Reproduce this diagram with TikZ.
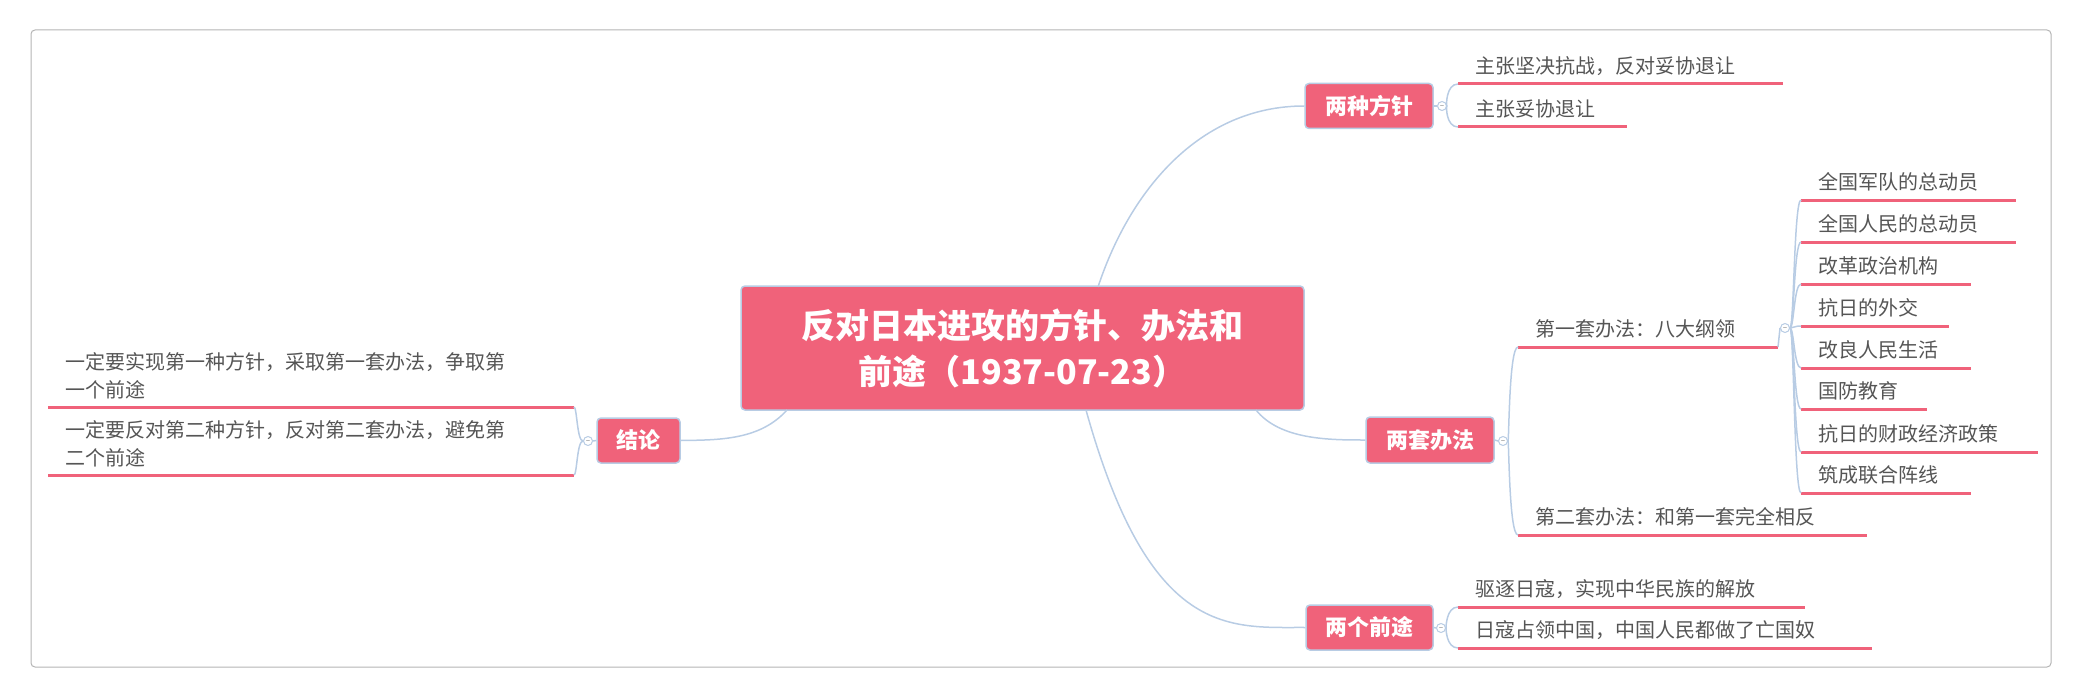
\documentclass[tikz,border=0pt]{standalone}
\usepackage{fontspec}
\setmainfont{Noto Sans CJK SC}
\definecolor{topicpink}{HTML}{F0627A}
\definecolor{linkblue}{HTML}{B8CCE4}
\definecolor{leafgray}{HTML}{555555}
\definecolor{framegray}{HTML}{B4B4B4}
\tikzset{
  topic/.style={draw=linkblue, line width=1.5pt, fill=topicpink, rounded corners=4pt,
    text=white, font=\fontsize{22}{26}\selectfont\bfseries, inner sep=0pt},
  link/.style={linkblue, line width=1.5pt},
  underline/.style={topicpink, line width=3pt},
  leaftext/.style={anchor=west, text=leafgray, font=\fontsize{20}{28}\selectfont, inner sep=0pt, align=left},
  fold/.style={circle, draw=linkblue, fill=white, line width=1pt, minimum size=9pt, inner sep=0pt}
}
% leaf: name, x start, x end, y of the line, text
\newcommand{\leaf}[5]{%
  \draw[underline] (#2,#4) -- (#3,#4);
  \coordinate (#1) at (#2,#4);
  \node[leaftext] (#1t) at (#2+17,#4-18) {#5};
}
% bracket from a fold mark to a leaf
\newcommand{\bracket}[3]{%
  \draw[link] (#1.east) .. controls (#2,0|-#1.east) and (#2,0|-#3) .. (#3);
}
\begin{document}
\begin{tikzpicture}[x=1pt,y=-1pt]
\useasboundingbox (0,0) rectangle (2085,698);
\draw[framegray, line width=1pt, rounded corners=4pt] (31,30) rectangle (2051,667);

% main topic
\node[topic, minimum width=563pt, minimum height=124pt, align=center,
  font=\fontsize{34}{46}\selectfont\bfseries] (main) at (1022.5,348)
  {反对日本进攻的方针、办法和\\前途（1937-07-23）};

% branches
\node[topic, minimum width=128pt, minimum height=45pt] (fangzhen) at (1369,106) {两种方针};
\node[topic, minimum width=128pt, minimum height=46pt] (banfa) at (1430,440) {两套办法};
\node[topic, minimum width=127pt, minimum height=45pt] (qiantu) at (1369.5,627.5) {两个前途};
\node[topic, minimum width=83pt, minimum height=45pt] (jielun) at (638.5,440.5) {结论};

\draw[link] (1098,287) .. controls (1130,190) and (1200,106) .. (fangzhen.west);
\draw[link] (1256,410) .. controls (1280,440) and (1330,440) .. (banfa.west);
\draw[link] (1086,410) .. controls (1150,640) and (1230,627) .. (qiantu.west);
\draw[link] (787,410) .. controls (760,440) and (720,440) .. (jielun.east);

% fold marks
\node[fold] (f1) at (1442,106) {\tiny$-$};
\node[fold] (f2) at (1503,441) {\tiny$-$};
\node[fold] (f3) at (1441,628) {\tiny$-$};
\node[fold] (f4) at (588,441) {\tiny$-$};
\node[fold] (f5) at (1785,328) {\tiny$-$};
\draw[link] (fangzhen.east) -- (f1.west);
\draw[link] (banfa.east) -- (f2.west);
\draw[link] (qiantu.east) -- (f3.west);
\draw[link] (jielun.west) -- (f4.east);

% leaves
\leaf{a1}{1458}{1783}{84}{主张坚决抗战，反对妥协退让}
\leaf{a2}{1458}{1627}{127}{主张妥协退让}
\leaf{b1}{1518}{1778}{347}{第一套办法：八大纲领}
\leaf{b2}{1518}{1867}{535}{第二套办法：和第一套完全相反}
\leaf{c1}{1458}{1805}{607}{驱逐日寇，实现中华民族的解放}
\leaf{c2}{1458}{1872}{648}{日寇占领中国，中国人民都做了亡国奴}
\leaf{g1}{1801}{2016}{200}{全国军队的总动员}
\leaf{g2}{1801}{2016}{242}{全国人民的总动员}
\leaf{g3}{1801}{1971}{284}{改革政治机构}
\leaf{g4}{1801}{1949}{326}{抗日的外交}
\leaf{g5}{1801}{1971}{368}{改良人民生活}
\leaf{g6}{1801}{1927}{409}{国防教育}
\leaf{g7}{1801}{2038}{452}{抗日的财政经济政策}
\leaf{g8}{1801}{1971}{493}{筑成联合阵线}
\draw[underline] (48,407) -- (574,407);
\draw[underline] (48,475) -- (574,475);
\coordinate (d1) at (574,407);
\coordinate (d2) at (574,475);
\node[leaftext] (d1t) at (65,376) {一定要实现第一种方针，采取第一套办法，争取第\\一个前途};
\node[leaftext] (d2t) at (65,444) {一定要反对第二种方针，反对第二套办法，避免第\\二个前途};

% brackets
\bracket{f1}{1446}{a1}
\bracket{f1}{1446}{a2}
\bracket{f2}{1509}{b1}
\bracket{f2}{1509}{b2}
\bracket{f3}{1446}{c1}
\bracket{f3}{1446}{c2}
\draw[link] (1778,347) -- (f5.west);
\foreach \g in {g1,g2,g3,g4,g5,g6,g7,g8}{\bracket{f5}{1794}{\g}}
\draw[link] (f4.west) .. controls (577,441) and (577,407) .. (d1);
\draw[link] (f4.west) .. controls (577,441) and (577,475) .. (d2);
\end{tikzpicture}
\end{document}
